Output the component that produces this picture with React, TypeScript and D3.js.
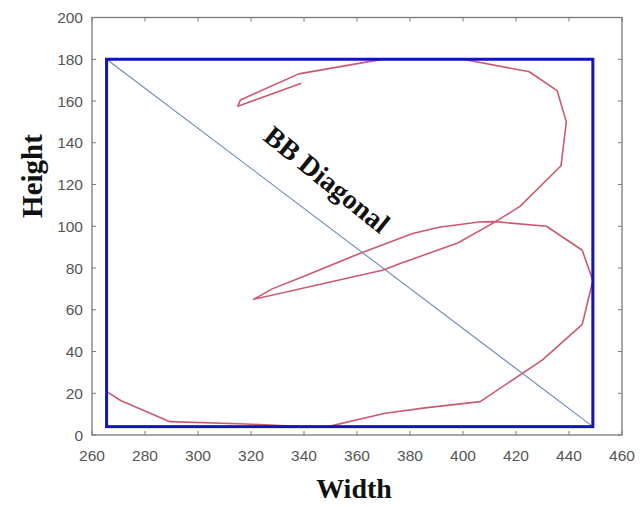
import React from "react";
import * as d3 from "d3";

const xTicks = [260, 280, 300, 320, 340, 360, 380, 400, 420, 440, 460];
const yTicks = [0, 20, 40, 60, 80, 100, 120, 140, 160, 180, 200];

// Bounding box corners [xMin, yMin, xMax, yMax]
const bbox = [265.5, 4, 449, 180];

// Trajectory (width, height) points
const trajX = [339, 315, 316, 338, 365, 370, 400, 425, 435.5, 439, 437, 421.5, 412, 398, 376, 370, 321, 328, 340, 361, 381, 391, 406, 412, 431.5, 445, 449, 445, 430, 406.5, 385.7, 370.6, 349, 339, 318, 289.4, 271, 265.5];
const trajY = [168.5, 157.5, 160.5, 173, 179, 180, 180, 174, 165, 150, 129, 109.5, 102, 92, 82, 79, 65, 70, 76, 87, 96.5, 99.5, 102, 102.2, 100, 88.5, 74, 53, 36, 16, 13, 10.4, 4, 4, 5.3, 6.4, 16.4, 20.8];

const W = 644;
const H = 507;
const left = 92, right = 622, top = 17.5, bottom = 435;

export default function App() {
  const x = d3.scaleLinear().domain([260, 460]).range([left, right]);
  const y = d3.scaleLinear().domain([0, 200]).range([bottom, top]);
  const pts: [number, number][] = trajX.map((v, i) => [x(v), y(trajY[i])]);
  const line = d3.line()(pts) || "";
  const [bx0, by0, bx1, by1] = bbox;
  const tickLen = 4;
  return (
    <svg width={W} height={H} style={{ position: "absolute", left: 0, top: 0, background: "#fff" }}>
      <rect x={0} y={0} width={W} height={H} fill="#fff" />
      {/* axes box */}
      <rect x={left} y={top} width={right - left} height={bottom - top} fill="none" stroke="#7a7a7a" strokeWidth={1.3} />
      {xTicks.map((t) => (
        <g key={"x" + t}>
          <line x1={x(t)} x2={x(t)} y1={bottom} y2={bottom - tickLen} stroke="#7a7a7a" />
          <line x1={x(t)} x2={x(t)} y1={top} y2={top + tickLen} stroke="#7a7a7a" />
          <text x={x(t)} y={461} textAnchor="middle" fontFamily="Liberation Sans, Arial, sans-serif" fontSize={15.5} fill="#555">{t}</text>
        </g>
      ))}
      {yTicks.map((t) => (
        <g key={"y" + t}>
          <line x1={left} x2={left + tickLen} y1={y(t)} y2={y(t)} stroke="#7a7a7a" />
          <line x1={right} x2={right - tickLen} y1={y(t)} y2={y(t)} stroke="#7a7a7a" />
          <text x={83} y={y(t) + 5.5} textAnchor="end" fontFamily="Liberation Sans, Arial, sans-serif" fontSize={15.5} fill="#555">{t}</text>
        </g>
      ))}
      {/* diagonal */}
      <line x1={x(bx0)} y1={y(by1)} x2={x(bx1)} y2={y(by0)} stroke="#6f88c0" strokeWidth={1.1} />
      {/* trajectory */}
      <path d={line} fill="none" stroke="#cc5a6e" strokeWidth={1.6} strokeLinejoin="round" />
      {/* bounding box */}
      <rect x={x(bx0)} y={y(by1)} width={x(bx1) - x(bx0)} height={y(by0) - y(by1)} fill="none" stroke="#1414b4" strokeWidth={3} />
      {/* label */}
      <text
        transform="translate(321,187) rotate(39)"
        textAnchor="middle"
        fontFamily="Liberation Serif, Times New Roman, serif"
        fontWeight="bold"
        fontSize={28}
        fill="#111"
      >BB Diagonal</text>
      <text x={354} y={498} textAnchor="middle" fontFamily="Liberation Serif, Times New Roman, serif" fontWeight="bold" fontSize={28} fill="#111">Width</text>
      <text transform="translate(42,176) rotate(-90)" textAnchor="middle" fontFamily="Liberation Serif, Times New Roman, serif" fontWeight="bold" fontSize={29} fill="#111">Height</text>
    </svg>
  );
}
